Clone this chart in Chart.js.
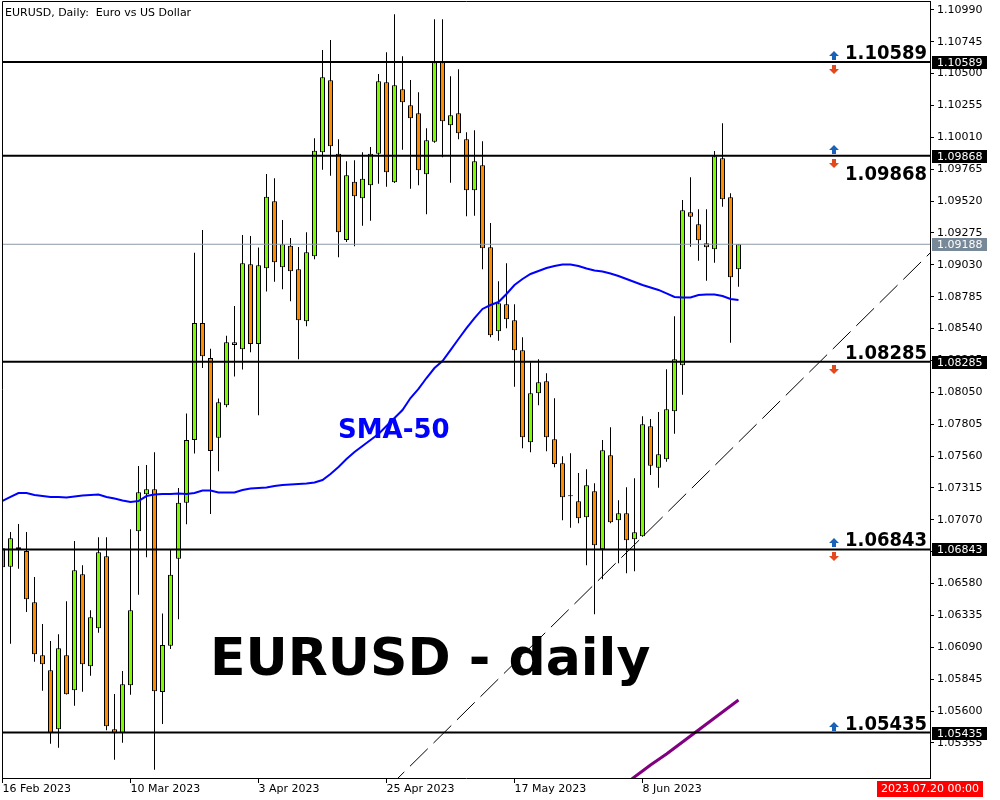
<!DOCTYPE html>
<html>
<head>
<meta charset="utf-8">
<title>EURUSD daily</title>
<script src="https://cdn.jsdelivr.net/npm/chart.js@4.4.1/dist/chart.umd.min.js"></script>
<style>
  html, body { margin: 0; padding: 0; background: #ffffff; }
  canvas { display: block; }
</style>
</head>
<body>
<canvas id="chart" width="1000" height="800"></canvas>
<script>
// time axis: label text and the bar index it sits on
const dateLabels = ['16 Feb 2023', '10 Mar 2023', '3 Apr 2023', '25 Apr 2023', '17 May 2023', '8 Jun 2023'];
const dateBars = [0, 16, 32, 48, 64, 80];

// daily candles, 16 Feb 2023 .. 26 Jun 2023
const opens = [
  1.06851, 1.06710, 1.06859, 1.06831, 1.06436, 1.06029, 1.05914, 1.05460, 1.06029, 1.05760,
  1.06651, 1.05944, 1.06236, 1.06790, 1.05460, 1.05432, 1.05798, 1.06982, 1.07266, 1.07305,
  1.05747, 1.06103, 1.06771, 1.07202, 1.07684, 1.08583, 1.08314, 1.07701, 1.07950, 1.08413,
  1.08382, 1.09035, 1.08421, 1.09003, 1.09518, 1.09011, 1.09177, 1.08996, 1.08596, 1.09096,
  1.09895, 1.10448, 1.09884, 1.09221, 1.09669, 1.09541, 1.09641, 1.09884, 1.10433, 1.09664,
  1.10379, 1.10256, 1.10195, 1.09726, 1.09976, 1.10587, 1.10102, 1.10195, 1.09995, 1.09603,
  1.09795, 1.09165, 1.08519, 1.08727, 1.08604, 1.08373, 1.07666, 1.08043, 1.08135, 1.07689,
  1.07505, 1.07251, 1.07212, 1.07090, 1.07289, 1.06844, 1.07566, 1.07066, 1.07120, 1.06920,
  1.06944, 1.07789, 1.07471, 1.07535, 1.07904, 1.08258, 1.09434, 1.09342, 1.09196, 1.09149,
  1.09849, 1.09549, 1.08996
];
const highs = [
  1.06877, 1.06977, 1.07038, 1.06977, 1.06631, 1.06269, 1.06139, 1.06190, 1.06444, 1.06907,
  1.06721, 1.06375, 1.06936, 1.06936, 1.05731, 1.05908, 1.06997, 1.07484, 1.07492, 1.07589,
  1.06350, 1.06840, 1.07314, 1.07887, 1.09122, 1.09298, 1.08385, 1.08002, 1.08484, 1.08714,
  1.09259, 1.09252, 1.09163, 1.09728, 1.09695, 1.09375, 1.09236, 1.09167, 1.09280, 1.10003,
  1.10681, 1.10758, 1.09995, 1.09826, 1.09833, 1.09895, 1.09936, 1.10497, 1.10664, 1.10956,
  1.10633, 1.10451, 1.10356, 1.10079, 1.10917, 1.10917, 1.10479, 1.10533, 1.10049, 1.10064,
  1.09980, 1.09352, 1.08903, 1.09042, 1.08727, 1.08473, 1.08281, 1.08304, 1.08196, 1.08004,
  1.07558, 1.07581, 1.07430, 1.07458, 1.07351, 1.07684, 1.07781, 1.07220, 1.07320, 1.07389,
  1.07866, 1.07845, 1.07899, 1.08227, 1.08634, 1.09528, 1.09703, 1.09457, 1.09457, 1.09905,
  1.10118, 1.09580, 1.09188
];
const lows = [
  1.06669, 1.06118, 1.06695, 1.06362, 1.05980, 1.05757, 1.05349, 1.05319, 1.05728, 1.05642,
  1.05749, 1.05872, 1.06203, 1.05452, 1.05226, 1.05357, 1.05726, 1.06495, 1.06782, 1.05150,
  1.05501, 1.06078, 1.06306, 1.07037, 1.07580, 1.08237, 1.07114, 1.07443, 1.07936, 1.08172,
  1.08226, 1.08358, 1.07873, 1.08825, 1.08900, 1.08842, 1.08750, 1.08304, 1.08558, 1.09073,
  1.09761, 1.09715, 1.09088, 1.09206, 1.09172, 1.09331, 1.09369, 1.09654, 1.09631, 1.09659,
  1.09915, 1.09615, 1.09641, 1.09418, 1.09969, 1.09856, 1.09661, 1.09995, 1.09403, 1.09408,
  1.08996, 1.08473, 1.08447, 1.08542, 1.08093, 1.07620, 1.07589, 1.07950, 1.07597, 1.07474,
  1.07066, 1.07010, 1.07043, 1.06721, 1.06344, 1.06613, 1.07043, 1.06736, 1.06659, 1.06675,
  1.06941, 1.07415, 1.07317, 1.07517, 1.07732, 1.08032, 1.09169, 1.09062, 1.08908, 1.09046,
  1.09477, 1.08432, 1.08862
];
const closes = [
  1.06705, 1.06928, 1.06844, 1.06459, 1.06037, 1.05960, 1.05432, 1.06083, 1.05729, 1.06682,
  1.05960, 1.06321, 1.06821, 1.05483, 1.05429, 1.05806, 1.06375, 1.07282, 1.07305, 1.05752,
  1.06108, 1.06648, 1.07202, 1.07684, 1.08583, 1.08328, 1.07599, 1.07974, 1.08435, 1.08435,
  1.09043, 1.08421, 1.09026, 1.09554, 1.09050, 1.09188, 1.08980, 1.08604, 1.09126, 1.09907,
  1.10471, 1.09941, 1.09280, 1.09718, 1.09557, 1.09692, 1.09884, 1.10441, 1.09741, 1.10410,
  1.10279, 1.10156, 1.09757, 1.09987, 1.10587, 1.10133, 1.10179, 1.10041, 1.09603, 1.09826,
  1.09157, 1.08488, 1.08734, 1.08611, 1.08373, 1.07704, 1.08043, 1.08127, 1.07704, 1.07499,
  1.07243, 1.07251, 1.07082, 1.07336, 1.06874, 1.07605, 1.07051, 1.07120, 1.06913, 1.06974,
  1.07804, 1.07486, 1.07574, 1.07920, 1.08304, 1.09449, 1.09400, 1.09219, 1.09165, 1.09864,
  1.09534, 1.08934, 1.09188
];

// SMA-50 as drawn, one value per bar
const sma50 = [
  1.07215, 1.07246, 1.07276, 1.07276, 1.07261, 1.07253, 1.07246, 1.07246, 1.07242, 1.07249,
  1.07257, 1.07261, 1.07265, 1.07246, 1.07234, 1.07219, 1.07207, 1.07215, 1.07253, 1.07265,
  1.07269, 1.07269, 1.07272, 1.07269, 1.07276, 1.07296, 1.07296, 1.07280, 1.07280, 1.07280,
  1.07299, 1.07311, 1.07315, 1.07319, 1.07330, 1.07338, 1.07342, 1.07345, 1.07349, 1.07357,
  1.07376, 1.07422, 1.07476, 1.07538, 1.07591, 1.07638, 1.07684, 1.07730, 1.07791, 1.07853,
  1.07914, 1.08006, 1.08076, 1.08160, 1.08237, 1.08291, 1.08375, 1.08460, 1.08544, 1.08621,
  1.08691, 1.08721, 1.08744, 1.08806, 1.08875, 1.08921, 1.08960, 1.08983, 1.09006, 1.09021,
  1.09033, 1.09033, 1.09021, 1.09002, 1.08986, 1.08979, 1.08963, 1.08944, 1.08921, 1.08898,
  1.08875, 1.08856, 1.08837, 1.08810, 1.08783, 1.08779, 1.08779, 1.08798, 1.08802, 1.08802,
  1.08790, 1.08767, 1.08760
];

// slow average (purple), only its visible tail, starting at bar 78
const slowMaFirstBar = 78;
const slowMa = [
  1.05047, 1.05094, 1.05140, 1.05186, 1.05228, 1.05270, 1.05316, 1.05363, 1.05409, 1.05455,
  1.05501, 1.05547, 1.05593, 1.05639, 1.05685
];

// support / resistance levels, last price, trend line anchors
const levels = [1.10589, 1.09868, 1.08285, 1.06843, 1.05435];
const lastPrice = 1.09188;
const trendBars = [48, 116];
const trendPrices = [1.04998, 1.09124];

// right axis tick labels
const priceTicks = [
  1.05355, 1.05600, 1.05845, 1.06090, 1.06335, 1.06580, 1.06825, 1.07070, 1.07315, 1.07560,
  1.07805, 1.08050, 1.08295, 1.08540, 1.08785, 1.09030, 1.09275, 1.09520, 1.09765, 1.10010,
  1.10255, 1.10500, 1.10745, 1.10990
];

const titleText = 'EURUSD, Daily:  Euro vs US Dollar';
const timeText = '2023.07.20 00:00';

const GREEN = '#7cfc00';
const ORANGE = '#ff8c00';
const X_MIN = -0.0625, X_MAX = 115.9375;
const Y_MIN = 1.050858, Y_MAX = 1.110578;

// which alert arrows sit on each level, and where its big label goes
const arrowUp = [true, true, false, true, true];
const arrowDown = [true, true, true, true, false];
const labelBelow = [false, true, false, false, false];

function upArrow(ctx, cx, bottom) {
  ctx.fillStyle = '#1a62b8';
  ctx.beginPath();
  ctx.moveTo(cx, bottom - 9);
  ctx.lineTo(cx + 5, bottom - 4);
  ctx.lineTo(cx + 2, bottom - 4);
  ctx.lineTo(cx + 2, bottom);
  ctx.lineTo(cx - 2, bottom);
  ctx.lineTo(cx - 2, bottom - 4);
  ctx.lineTo(cx - 5, bottom - 4);
  ctx.closePath();
  ctx.fill();
}

function downArrow(ctx, cx, top) {
  ctx.fillStyle = '#e4491d';
  ctx.beginPath();
  ctx.moveTo(cx - 2, top);
  ctx.lineTo(cx + 2, top);
  ctx.lineTo(cx + 2, top + 4);
  ctx.lineTo(cx + 5, top + 4);
  ctx.lineTo(cx, top + 9);
  ctx.lineTo(cx - 5, top + 4);
  ctx.lineTo(cx - 2, top + 4);
  ctx.closePath();
  ctx.fill();
}

function axisBox(ctx, a, y, v, bg) {
  const py = Math.round(y.getPixelForValue(v));
  ctx.fillStyle = bg;
  ctx.fillRect(a.right + 2, py - 6, 55, 13);
  ctx.fillStyle = '#fff';
  ctx.font = '11px "DejaVu Sans"';
  ctx.textAlign = 'left';
  ctx.textBaseline = 'middle';
  ctx.fillText(v.toFixed(5), a.right + 7, py + 1);
}

const marks = {
  id: 'marks',
  afterDraw(chart) {
    const { ctx, chartArea: a, scales: { y } } = chart;
    ctx.save();

    // frame, top and left side (axes draw the other two)
    ctx.strokeStyle = '#000';
    ctx.lineWidth = 1;
    ctx.beginPath();
    ctx.moveTo(a.left + 0.5, a.bottom);
    ctx.lineTo(a.left + 0.5, a.top + 0.5);
    ctx.lineTo(a.right, a.top + 0.5);
    ctx.stroke();

    ctx.fillStyle = '#000';
    ctx.font = '11px "DejaVu Sans"';
    ctx.textAlign = 'left';
    ctx.textBaseline = 'alphabetic';
    ctx.fillText(titleText, a.left + 3, a.top + 15);

    ctx.fillStyle = '#0000ff';
    ctx.font = 'bold 26px "DejaVu Sans"';
    ctx.fillText('SMA-50', 338, 438);

    ctx.fillStyle = '#000';
    ctx.font = 'bold 52px "DejaVu Sans"';
    ctx.fillText('EURUSD - daily', 210, 675);

    levels.forEach((v, k) => {
      const py = Math.round(y.getPixelForValue(v));
      if (arrowUp[k]) upArrow(ctx, 834, py - 2);
      if (arrowDown[k]) downArrow(ctx, 834, py + 3);
      ctx.fillStyle = '#000';
      ctx.font = 'bold 20px "DejaVu Sans Condensed", "DejaVu Sans"';
      ctx.textAlign = 'right';
      ctx.textBaseline = 'alphabetic';
      ctx.fillText(v.toFixed(5), a.right - 3, labelBelow[k] ? py + 24 : py - 3);
    });

    levels.forEach(v => axisBox(ctx, a, y, v, '#000'));
    axisBox(ctx, a, y, lastPrice, '#778899');

    // time marker at the bottom right
    ctx.fillStyle = '#ff0000';
    ctx.fillRect(877, 781, 106, 16);
    ctx.fillStyle = '#fff';
    ctx.font = '11px "DejaVu Sans"';
    ctx.textAlign = 'center';
    ctx.textBaseline = 'middle';
    ctx.fillText(timeText, 930, 789.5);

    ctx.restore();
  }
};

const bars = opens.map((o, i) => i);
const bodyColors = opens.map((o, i) => closes[i] > o ? GREEN : (closes[i] < o ? ORANGE : '#000'));

const levelSets = levels.map(v => ({
  type: 'line',
  data: [{ x: X_MIN, y: v }, { x: X_MAX, y: v }],
  borderColor: '#000',
  borderWidth: 2,
  pointRadius: 0,
  clip: 0,
  order: 1
}));

new Chart(document.getElementById('chart'), {
  type: 'bar',
  data: {
    datasets: [
      ...levelSets,
      {
        type: 'line',
        data: [{ x: X_MIN, y: lastPrice }, { x: X_MAX, y: lastPrice }],
        borderColor: '#8c9aa8',
        borderWidth: 1,
        pointRadius: 0,
        clip: 0,
        order: 2
      },
      {
        type: 'line',
        data: trendBars.map((b, k) => ({ x: b, y: trendPrices[k] })),
        borderColor: '#000',
        borderWidth: 1,
        borderDash: [25, 8],
        pointRadius: 0,
        clip: 0,
        order: 2
      },
      {
        type: 'line',
        data: sma50.map((v, i) => ({ x: i, y: v })),
        borderColor: '#0000ff',
        borderWidth: 2,
        pointRadius: 0,
        tension: 0,
        clip: 0,
        order: 3
      },
      {
        type: 'line',
        data: slowMa.map((v, k) => ({ x: slowMaFirstBar + k, y: v })),
        borderColor: '#800080',
        borderWidth: 3,
        pointRadius: 0,
        tension: 0,
        clip: 0,
        order: 3
      },
      {
        // candle bodies
        data: bars.map(i => ({ x: i, y: [opens[i], closes[i]] })),
        backgroundColor: bodyColors,
        borderColor: '#000',
        borderWidth: 1,
        borderSkipped: false,
        barThickness: 5,
        minBarLength: 1,
        inflateAmount: 0,
        grouped: false,
        clip: 0,
        order: 5
      },
      {
        // wicks
        data: bars.map(i => ({ x: i, y: [lows[i], highs[i]] })),
        backgroundColor: '#000',
        borderWidth: 0,
        barThickness: 1,
        inflateAmount: 0,
        grouped: false,
        clip: 0,
        order: 6
      }
    ]
  },
  options: {
    responsive: false,
    animation: false,
    devicePixelRatio: 1,
    events: [],
    layout: { padding: { left: 2, top: 1, right: 0, bottom: 0 } },
    plugins: {
      legend: { display: false },
      tooltip: { enabled: false }
    },
    scales: {
      x: {
        type: 'linear',
        position: 'bottom',
        min: X_MIN,
        max: X_MAX,
        offset: false,
        grid: { display: true, drawOnChartArea: false, drawTicks: true, tickLength: 5, tickColor: '#000', offset: false },
        border: { display: true, color: '#000', width: 1 },
        ticks: {
          autoSkip: false,
          maxRotation: 0,
          align: 'start',
          padding: 0,
          color: '#000',
          font: { family: 'DejaVu Sans', size: 11 },
          callback: (value, index) => dateLabels[index]
        },
        afterBuildTicks: s => { s.ticks = dateBars.map(v => ({ value: v })); },
        afterFit: s => {
          s.height = 22;
          s.paddingLeft = 0; s.paddingRight = 0; s.paddingTop = 0; s.paddingBottom = 0;
        }
      },
      y: {
        type: 'linear',
        position: 'right',
        min: Y_MIN,
        max: Y_MAX,
        grid: { display: true, drawOnChartArea: false, drawTicks: true, tickLength: 4, tickColor: '#000' },
        border: { display: true, color: '#000', width: 1 },
        ticks: {
          autoSkip: false,
          padding: 3,
          color: '#000',
          font: { family: 'DejaVu Sans', size: 11 },
          callback: value => value.toFixed(5)
        },
        afterBuildTicks: s => { s.ticks = priceTicks.map(v => ({ value: v })); },
        afterFit: s => {
          s.width = 70;
          s.paddingLeft = 0; s.paddingRight = 0; s.paddingTop = 0; s.paddingBottom = 0;
        }
      }
    }
  },
  plugins: [marks]
});
</script>
</body>
</html>
